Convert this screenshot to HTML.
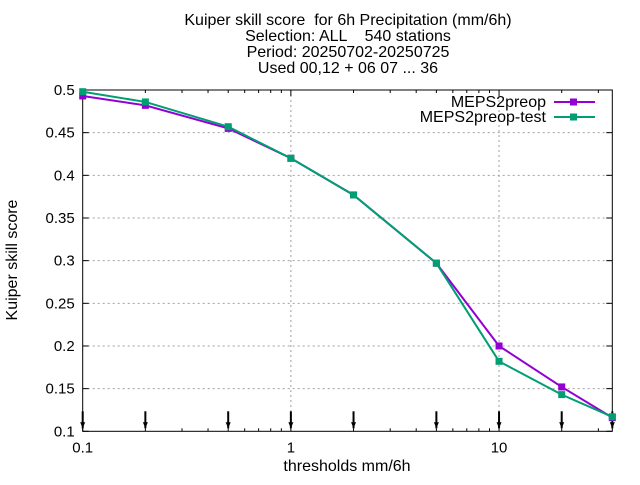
<!DOCTYPE html>
<html><head><meta charset="utf-8"><style>
body{margin:0;background:#fff;font-family:"Liberation Sans",sans-serif}
svg text{font-family:"Liberation Sans",sans-serif;fill:#000;white-space:pre}
</style></head><body>
<svg id="chart" width="640" height="480" xmlns="http://www.w3.org/2000/svg" xml:space="preserve">
<g font-size="16" text-anchor="middle">
<text x="348" y="25">Kuiper skill score  for 6h Precipitation (mm/6h)</text>
<text x="348" y="41">Selection: ALL    540 stations</text>
<text x="348" y="57">Period: 20250702-20250725</text>
<text x="348" y="73">Used 00,12 + 06 07 ... 36</text>
</g>
<g id="grid"></g>
<g id="axes"></g>
<g id="series"></g>
<text transform="translate(17,260) rotate(-90)" text-anchor="middle" font-size="16">Kuiper skill score</text>
<text x="347" y="471" text-anchor="middle" font-size="16">thresholds mm/6h</text>
<g font-size="16" text-anchor="end">
<g><text x="546" y="107">MEPS2preop</text><line x1="554" y1="102" x2="595" y2="102" stroke="#9400d3" stroke-width="2"/><rect x="570" y="98.5" width="7" height="7" fill="#9400d3"/></g>
<g><text x="546" y="122">MEPS2preop-test</text><line x1="554" y1="117" x2="595" y2="117" stroke="#009e73" stroke-width="2"/><rect x="570" y="113.5" width="7" height="7" fill="#009e73"/></g>
</g>
</svg>
<script>
const thresholds=[0.1,0.2,0.5,1,2,5,10,20,35];
const meps2preop=[0.493,0.482,0.455,0.42,0.377,0.297,0.2,0.152,0.116];
const meps2preopTest=[0.498,0.486,0.457,0.42,0.377,0.297,0.182,0.143,0.117];
const yTicks=[0.1,0.15,0.2,0.25,0.3,0.35,0.4,0.45,0.5];
const xTicks=[0.1,1,10];
const L=82.7,R=612.3,T=90,B=431.3,xmin=0.1,xmax=35,ymin=0.1,ymax=0.5;
const X=v=>L+(Math.log10(v)-Math.log10(xmin))/(Math.log10(xmax)-Math.log10(xmin))*(R-L);
const Y=v=>B-(v-ymin)/(ymax-ymin)*(B-T);
const NS="http://www.w3.org/2000/svg";
function mk(p,t,a){const e=document.createElementNS(NS,t);for(const k in a)e.setAttribute(k,a[k]);p.appendChild(e);return e;}
const grid=document.getElementById('grid'),axes=document.getElementById('axes'),ser=document.getElementById('series');
yTicks.forEach(v=>{
 if(v>ymin&&v<ymax){const g=mk(grid,'line',{x1:L,x2:R,y1:Y(v),y2:Y(v),stroke:'#a0a0a0','stroke-dasharray':'2,3'});
 
 }
 mk(axes,'line',{x1:L,x2:L+6,y1:Y(v),y2:Y(v),stroke:'#000'});
 mk(axes,'line',{x1:R,x2:R-6,y1:Y(v),y2:Y(v),stroke:'#000'});
 const t=mk(axes,'text',{x:L-8,y:Y(v)+5,'text-anchor':'end','font-size':15});t.textContent=String(v);
 
 
});
xTicks.forEach(v=>{
 if(v>xmin){const g=mk(grid,'line',{x1:X(v),x2:X(v),y1:T,y2:B,stroke:'#a0a0a0','stroke-dasharray':'2,3'});
 
 }
 mk(axes,'line',{x1:X(v),x2:X(v),y1:B,y2:B-6,stroke:'#000'});
 mk(axes,'line',{x1:X(v),x2:X(v),y1:T,y2:T+6,stroke:'#000'});
 const t=mk(axes,'text',{x:X(v),y:B+21,'text-anchor':'middle','font-size':15});t.textContent=String(v);
 
 
});
for(let d=0.1;d<=10;d*=10){for(let m=2;m<=9;m++){const v=d*m;if(v>xmax)break;
 mk(axes,'line',{x1:X(v),x2:X(v),y1:B,y2:B-3,stroke:'#000'});
 mk(axes,'line',{x1:X(v),x2:X(v),y1:T,y2:T+3,stroke:'#000'});}}
mk(axes,'rect',{x:L,y:T,width:R-L,height:B-T,fill:'none',stroke:'#000'});
thresholds.forEach(v=>{
 const a=mk(axes,'line',{x1:X(v),x2:X(v),y1:B-20,y2:B-3,stroke:'#000','stroke-width':2});
 
 
 mk(axes,'path',{d:`M${X(v)-2.5},${B-9}L${X(v)+2.5},${B-9}L${X(v)},${B-3}Z`,fill:'#000'});
});
function drawSeries(vals,col,name){
 const g=mk(ser,'g',{});
 
 
 mk(g,'polyline',{points:vals.map((v,i)=>X(thresholds[i])+','+Y(v)).join(' '),fill:'none',stroke:col,'stroke-width':2});
 vals.forEach((v,i)=>{const r=mk(g,'rect',{x:X(thresholds[i])-3.5,y:Y(v)-3.5,width:7,height:7,fill:col});
  
  });
}
drawSeries(meps2preop,'#9400d3','series-meps2preop');
drawSeries(meps2preopTest,'#009e73','series-meps2preop-test');
</script>
</body></html>
